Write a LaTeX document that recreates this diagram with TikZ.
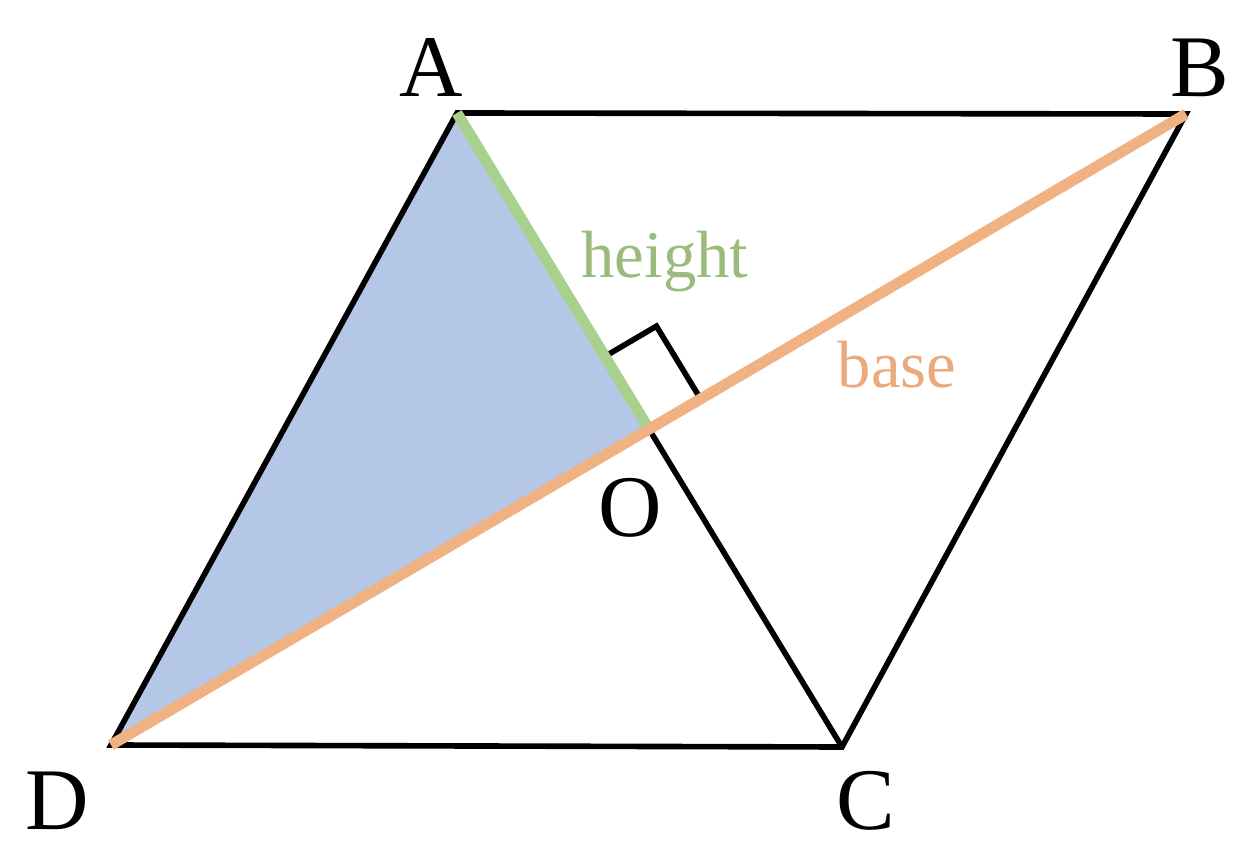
\documentclass[tikz,border=0pt]{standalone}
\usepackage{fontspec}
\setmainfont{Liberation Serif}
\usetikzlibrary{calc}
\definecolor{areablue}{HTML}{B4C7E7}
\definecolor{hgtgreen}{HTML}{A9D18E}
\definecolor{hgttext}{HTML}{9BBB7C}
\definecolor{baseorange}{HTML}{F0B183}
\definecolor{basetext}{HTML}{EBAA7D}
\begin{document}
\begin{tikzpicture}[
    edge/.style={draw=black,line width=1.6pt},
    hgt/.style={draw=hgtgreen,line width=3.1pt},
    baseline/.style={draw=baseorange,line width=3.1pt},
    vlabel/.style={font=\fontsize{25}{29}\selectfont},
    tlabel/.style={font=\fontsize{19}{22}\selectfont}
]
\useasboundingbox (0,0) rectangle (12.46,8.48);

\coordinate (A) at (4.57,7.35);
\coordinate (B) at (11.86,7.34);
\coordinate (C) at (8.42,1.01);
\coordinate (D) at (1.11,1.03);
\coordinate (O) at (intersection of A--C and D--B);

\fill[areablue] (A) -- (O) -- (D) -- cycle;
\draw[edge] (A) -- (B) -- (C) -- (D) -- cycle;
\draw[edge] (O) -- (C);

% right angle mark
\coordinate (P1) at ($(O)!0.23!(A)$);
\coordinate (P2) at ($(O)!0.096!(B)$);
\draw[edge] (P1) -- ($(P1)+(P2)-(O)$) -- (P2);

\draw[hgt] (A) -- (O);
\draw[baseline] (D) -- (B);

\node[vlabel] (lA) at (4.31,7.80) {A};
\node[vlabel] (lB) at (12.00,7.80) {B};
\node[vlabel] (lC) at (8.66,0.47) {C};
\node[vlabel] (lD) at (0.57,0.47) {D};
\node[vlabel] (lO) at (6.30,3.40) {O};

\node[tlabel,text=hgttext] (h) at (6.65,5.86) {height};
\node[tlabel,text=basetext] (b) at (8.97,4.83) {base};

\end{tikzpicture}
\end{document}
